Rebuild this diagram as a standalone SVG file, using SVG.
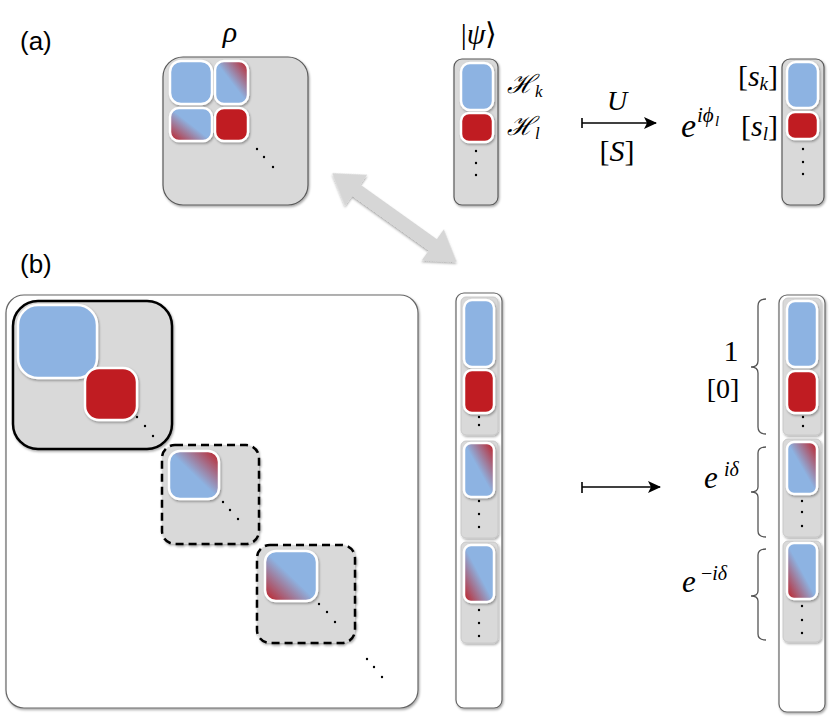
<svg xmlns="http://www.w3.org/2000/svg" width="830" height="719" viewBox="0 0 830 719">
<style>
.lbl{font-family:"Liberation Sans",Arial,sans-serif;font-size:26px;fill:#000}
.m{font-family:"Liberation Serif","Times New Roman",serif;fill:#000}
.it{font-style:italic}
.box{fill:#d9d9d9;stroke:#5a5a5a;stroke-width:1.2}
.sec{fill:#d9d9d9;stroke:#c4c4c4;stroke-width:0.8}
.wbox{fill:#fff;stroke:#666;stroke-width:1.2}
.sq{stroke:#fff;stroke-width:2.5}
.blue{fill:#8db3e2}
.red{fill:#c01d22}
.dot{fill:#000}
.br{fill:none;stroke:#555;stroke-width:1.3}
.ar{stroke:#000;stroke-width:1.6;fill:none}
</style>
<defs>
<linearGradient id="gTR" x1="0" y1="1" x2="1" y2="0">
<stop offset="0" stop-color="#8db3e2"/><stop offset="0.5" stop-color="#8db3e2"/><stop offset="1" stop-color="#c01d22"/>
</linearGradient>
<linearGradient id="gBL" x1="1" y1="0" x2="0" y2="1">
<stop offset="0" stop-color="#8db3e2"/><stop offset="0.5" stop-color="#8db3e2"/><stop offset="1" stop-color="#c01d22"/>
</linearGradient>
<filter id="sh" x="-20%" y="-20%" width="140%" height="140%">
<feDropShadow dx="1" dy="1.5" stdDeviation="1.2" flood-color="#000" flood-opacity="0.35"/>
</filter>
<marker id="ah" markerWidth="14" markerHeight="12" refX="12" refY="6" orient="auto" markerUnits="userSpaceOnUse">
<path d="M0,0 L13,6 L0,12 L3,6 Z" fill="#000"/>
</marker>
</defs>

<text class="lbl" x="20" y="50">(a)</text>
<text class="lbl" x="20" y="273">(b)</text>

<g id="rho">
<text class="m it" x="230" y="42" font-size="30" text-anchor="middle">ρ</text>
<rect class="box" x="163" y="57" width="145" height="148" rx="20" filter="url(#sh)"/>
<rect class="sq blue" x="170" y="61" width="42" height="43" rx="11" filter="url(#sh)"/>
<rect class="sq" x="215" y="61" width="33" height="43" rx="9" fill="url(#gTR)" filter="url(#sh)"/>
<rect class="sq" x="170" y="108" width="42" height="33" rx="9" fill="url(#gBL)" filter="url(#sh)"/>
<rect class="sq red" x="215" y="108" width="33" height="33" rx="9" filter="url(#sh)"/>
<circle class="dot" cx="257" cy="149" r="1.2"/><circle class="dot" cx="264" cy="157" r="1.2"/><circle class="dot" cx="273" cy="167" r="1.2"/>
</g>

<g id="psi">
<text class="m" x="479" y="44" font-size="30" text-anchor="middle">|<tspan class="it">ψ</tspan>⟩</text>
<rect class="box" x="454" y="59" width="44" height="146" rx="8" filter="url(#sh)"/>
<rect class="sq blue" x="461" y="63" width="32" height="47" rx="9" filter="url(#sh)"/>
<rect class="sq red" x="461" y="113" width="32" height="29" rx="8" filter="url(#sh)"/>
<circle class="dot" cx="476" cy="151" r="1.2"/><circle class="dot" cx="476" cy="163" r="1.2"/><circle class="dot" cx="476" cy="175" r="1.2"/>
<text class="m it" x="507" y="93" font-size="26">ℋ<tspan font-size="17" dy="4">k</tspan></text>
<text class="m it" x="507" y="135" font-size="26">ℋ<tspan font-size="17" dy="4">l</tspan></text>
</g>

<g id="psi-out">
<rect class="box" x="782" y="59" width="42" height="146" rx="8" filter="url(#sh)"/>
<rect class="sq blue" x="787" y="62" width="31" height="46" rx="9" filter="url(#sh)"/>
<rect class="sq red" x="787" y="112" width="31" height="27" rx="8" filter="url(#sh)"/>
<circle class="dot" cx="803" cy="149" r="1.2"/><circle class="dot" cx="803" cy="162" r="1.2"/><circle class="dot" cx="803" cy="174" r="1.2"/>
<text class="m" x="778" y="86" font-size="30" text-anchor="end">[<tspan class="it">s</tspan><tspan class="it" font-size="19" dy="4">k</tspan><tspan dy="-4">]</tspan></text>
<text class="m it" x="681" y="137" font-size="34">e</text>
<text class="m it" x="697" y="122" font-size="21">iϕ</text>
<text class="m it" x="715" y="126" font-size="15">l</text>
<text class="m" x="778" y="136" font-size="30" text-anchor="end">[<tspan class="it">s</tspan><tspan class="it" font-size="19" dy="4">l</tspan><tspan dy="-4">]</tspan></text>
</g>

<g id="U-label">
<text class="m it" x="617" y="110" font-size="28" text-anchor="middle">U</text>
<text class="m" x="617" y="161" font-size="30" text-anchor="middle">[<tspan class="it">S</tspan>]</text>
</g>

<g id="matrix">
<rect class="wbox" x="6" y="295" width="412" height="413" rx="18" filter="url(#sh)"/>
<g id="block0">
<rect x="13" y="301" width="159" height="148" rx="25" fill="#d9d9d9" stroke="#000" stroke-width="2.5" filter="url(#sh)"/>
<rect class="sq blue" x="18" y="305" width="79" height="73" rx="20" filter="url(#sh)"/>
<rect class="sq red" x="85" y="368" width="52" height="52" rx="14" filter="url(#sh)"/>
<circle class="dot" cx="137" cy="417" r="1.2"/><circle class="dot" cx="145" cy="426" r="1.2"/><circle class="dot" cx="153" cy="436" r="1.2"/>
</g>
<g id="block1">
<rect x="162" y="445" width="97" height="99" rx="13" fill="#d9d9d9" stroke="#000" stroke-width="2.5" stroke-dasharray="8,5" filter="url(#sh)"/>
<rect class="sq" x="169" y="451" width="50" height="48" rx="11" fill="url(#gTR)" filter="url(#sh)"/>
<circle class="dot" cx="223" cy="502" r="1.2"/><circle class="dot" cx="230" cy="510" r="1.2"/><circle class="dot" cx="238" cy="519" r="1.2"/>
</g>
<g id="block2">
<rect x="257" y="545" width="98" height="98" rx="13" fill="#d9d9d9" stroke="#000" stroke-width="2.5" stroke-dasharray="8,5" filter="url(#sh)"/>
<rect class="sq" x="265" y="551" width="52" height="50" rx="11" fill="url(#gBL)" filter="url(#sh)"/>
<circle class="dot" cx="319" cy="604" r="1.2"/><circle class="dot" cx="327" cy="612" r="1.2"/><circle class="dot" cx="335" cy="622" r="1.2"/>
</g>
<circle class="dot" cx="367" cy="659" r="1.2"/><circle class="dot" cx="374" cy="667" r="1.2"/><circle class="dot" cx="382" cy="677" r="1.2"/>
</g>

<g id="col-in">
<rect class="wbox" x="456" y="293" width="46" height="415" rx="8" filter="url(#sh)"/>
<rect class="sec" x="461" y="297" width="37" height="138" rx="5" filter="url(#sh)"/>
<rect class="sq blue" x="464" y="300" width="30" height="67" rx="8" filter="url(#sh)"/>
<rect class="sq red" x="464" y="370" width="30" height="43" rx="8" filter="url(#sh)"/>
<circle class="dot" cx="479" cy="417" r="1.2"/><circle class="dot" cx="479" cy="425" r="1.2"/>
<rect class="sec" x="461" y="441" width="37" height="97" rx="5" filter="url(#sh)"/>
<rect class="sq" x="464" y="443" width="30" height="54" rx="7" fill="url(#gTR)" filter="url(#sh)"/>
<circle class="dot" cx="479" cy="501" r="1.2"/><circle class="dot" cx="479" cy="514" r="1.2"/><circle class="dot" cx="479" cy="527" r="1.2"/>
<rect class="sec" x="461" y="542" width="37" height="101" rx="5" filter="url(#sh)"/>
<rect class="sq" x="464" y="545" width="30" height="57" rx="7" fill="url(#gBL)" filter="url(#sh)"/>
<circle class="dot" cx="479" cy="610" r="1.2"/><circle class="dot" cx="479" cy="623" r="1.2"/><circle class="dot" cx="479" cy="636" r="1.2"/>
</g>

<g id="col-out">
<rect class="wbox" x="779" y="295" width="46" height="417" rx="8" filter="url(#sh)"/>
<rect class="sec" x="783" y="298" width="38" height="137" rx="5" filter="url(#sh)"/>
<rect class="sq blue" x="787" y="301" width="30" height="66" rx="8" filter="url(#sh)"/>
<rect class="sq red" x="787" y="371" width="30" height="42" rx="8" filter="url(#sh)"/>
<circle class="dot" cx="803" cy="417" r="1.2"/><circle class="dot" cx="803" cy="426" r="1.2"/>
<rect class="sec" x="783" y="439" width="38" height="98" rx="5" filter="url(#sh)"/>
<rect class="sq" x="787" y="442" width="30" height="52" rx="7" fill="url(#gTR)" filter="url(#sh)"/>
<circle class="dot" cx="802" cy="501" r="1.2"/><circle class="dot" cx="802" cy="512" r="1.2"/><circle class="dot" cx="802" cy="526" r="1.2"/>
<rect class="sec" x="783" y="541" width="38" height="101" rx="5" filter="url(#sh)"/>
<rect class="sq" x="787" y="543" width="30" height="56" rx="7" fill="url(#gBL)" filter="url(#sh)"/>
<circle class="dot" cx="802" cy="606" r="1.2"/><circle class="dot" cx="802" cy="620" r="1.2"/><circle class="dot" cx="802" cy="633" r="1.2"/>
</g>

<g id="labels-b">
<text class="m" x="731" y="361" font-size="30" text-anchor="middle">1</text>
<text class="m" x="723" y="398" font-size="28" text-anchor="middle">[0]</text>
<text class="m it" x="704" y="488" font-size="31">e</text>
<text class="m it" x="724" y="476" font-size="20">iδ</text>
<text class="m it" x="682" y="592" font-size="31">e</text>
<text class="m" x="701" y="580" font-size="20">−<tspan class="it">iδ</tspan></text>
</g>

<g id="connectors">
<path class="br" d="M766,299 Q758,299 758,306 L758,361 Q758,367 751,367 Q758,367 758,373 L758,427 Q758,434 766,434"/>
<path class="br" d="M766,447 Q758,447 758,453 L758,487 Q758,492 751,492 Q758,492 758,497 L758,531 Q758,537 766,537"/>
<path class="br" d="M766,549 Q758,549 758,555 L758,591 Q758,596 751,596 Q758,596 758,601 L758,634 Q758,640 766,640"/>
<line class="ar" x1="582" y1="123" x2="656" y2="123" marker-end="url(#ah)"/>
<line class="ar" x1="582" y1="118" x2="582" y2="128"/>
<line class="ar" x1="582" y1="487" x2="660" y2="487" marker-end="url(#ah)"/>
<line class="ar" x1="582" y1="482" x2="582" y2="493"/>
<polygon transform="translate(394.5,217.5) rotate(35.5)" points="-76.5,0 -47,-19 -47,-7 47,-7 47,-19 76.5,0 47,19 47,7 -47,7 -47,19" fill="#d6d6d6" filter="url(#sh)"/>
</g>
</svg>
